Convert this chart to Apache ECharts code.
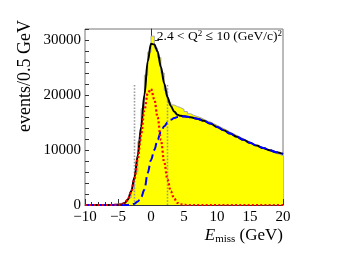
<!DOCTYPE html>
<html><head><meta charset="utf-8">
<script src="https://cdn.jsdelivr.net/npm/echarts@6/dist/echarts.min.js"></script>
<style>html,body{margin:0;padding:0;background:#fff}#c{width:363px;height:257px}</style>
</head><body><div id="c"></div>
<script>
// Histogram: lower bin edges (0.5 GeV bins) and counts
const binEdges = [-10,-9.5,-9,-8.5,-8,-7.5,-7,-6.5,-6,-5.5,-5,-4.5,-4,-3.5,-3,-2.5,-2,-1.5,-1,-0.5,
  0,0.5,1,1.5,2,2.5,3,3.5,4,4.5,5,5.5,6,6.5,7,7.5,8,8.5,9,9.5,
  10,10.5,11,11.5,12,12.5,13,13.5,14,14.5,15,15.5,16,16.5,17,17.5,18,18.5,19,19.5];
const histUpperEdge = 20;
const histValues = [30,40,40,50,60,70,90,110,140,180,250,400,650,1300,2900,6000,11500,17500,23600,27800,
  30700,28500,26800,24000,20800,18600,18200,17900,17700,17400,17000,16600,16300,16100,15900,15600,15300,15100,14800,14500,
  14200,13900,13600,13250,12950,12650,12350,12050,11750,11450,11150,10850,10600,10350,10100,9850,9600,9400,9200,9000];

// Fit curves sampled at curveX
const curveX = [-10,-8,-6,-5,-4.5,-4,-3.5,-3,-2.5,-2,-1.5,-1,-0.5,0,0.5,1,1.5,2,2.5,3,3.5,4,4.5,5,5.5,6,
  7,8,9,10,11,12,13,14,15,16,17,18,19,20];
const signalFit = [0,0,0,30,100,350,1000,2400,4800,8400,12800,17200,20300,21100,19200,16000,11800,7800,4600,2500,1200,400,120,30,0,0,
  0,0,0,0,0,0,0,0,0,0,0,0,0,0];
const backgroundFit = [0,0,0,0,0,0,20,80,250,650,1400,2800,5800,8200,10000,11900,13300,14300,15000,15500,15800,16000,16100,16100,16050,15950,
  15700,15300,14800,14200,13600,13000,12400,11850,11300,10800,10350,9950,9600,9300];
const totalFit = [0,0,0,30,100,350,1020,2480,5050,9050,14200,20000,26100,29300,29200,27900,25100,22100,19600,18000,17000,16400,16220,16130,16050,15950,
  15700,15300,14800,14200,13600,13000,12400,11850,11300,10800,10350,9950,9600,9300];

// Signal window cut lines
const cutPositions = [-2.5, 2.5];
const cutHeight = 22000;

const xMin = -10, xMax = 20, xStep = 5;
const yMin = 0, yMax = 32000, yMajor = 10000, yMinor = 2000;

const serif = "'Liberation Serif','Times New Roman',serif";

const histData = binEdges.map((e, i) => [e, histValues[i]]);
histData.push([histUpperEdge, histValues[histValues.length - 1]]);
const pair = arr => curveX.map((x, i) => [x, arr[i]]);

const chart = echarts.init(document.getElementById('c'), null, {renderer: 'canvas'});
const series = [
  {type: 'line', step: 'end', data: histData, showSymbol: false, z: 1,
   lineStyle: {color: '#a8a8a8', width: 1}, areaStyle: {color: '#ffff00', opacity: 1}},
];
cutPositions.forEach(c => series.push({
  type: 'line', data: [[c, 0], [c, cutHeight]], showSymbol: false, z: 2,
  lineStyle: {color: '#999', width: 1.6, type: [1.6, 1.6]}
}));
series.push(
  {type: 'line', data: pair(totalFit), showSymbol: false, smooth: 0.35, smoothMonotone: 'x', z: 3,
   lineStyle: {color: '#000', width: 2}},
  {type: 'line', data: pair(backgroundFit), showSymbol: false, smooth: 0.35, smoothMonotone: 'x', z: 4,
   lineStyle: {color: '#0000ff', width: 2, type: [8, 4]}},
  {type: 'line', data: pair(signalFit), showSymbol: false, smooth: 0.35, smoothMonotone: 'x', z: 5,
   lineStyle: {color: '#ff0000', width: 2.2, type: [2, 2.2]}}
);

chart.setOption({
  animation: false,
  grid: {left: 85, right: 80, top: 29, bottom: 52, show: true, borderColor: '#777', borderWidth: 1, backgroundColor: 'transparent'},
  xAxis: {
    type: 'value', min: xMin, max: xMax, interval: xStep,
    axisLine: {lineStyle: {color: '#333', width: 1}},
    axisTick: {inside: true, length: 6, lineStyle: {color: '#333'}},
    minorTick: {show: true, splitNumber: 5, length: 3, lineStyle: {color: '#333'}},
    splitLine: {show: false},
    axisLabel: {color: '#000', fontFamily: serif, fontSize: 15, margin: 5,
      formatter: v => String(v).replace('-', '\u2212')}
  },
  yAxis: [
    {type: 'value', min: yMin, max: yMax, interval: yMajor, position: 'left',
     axisLine: {show: true, lineStyle: {color: '#333', width: 1}},
     axisTick: {show: true, inside: true, length: 8, lineStyle: {color: '#333'}},
     splitLine: {show: false},
     axisLabel: {color: '#000', fontFamily: serif, fontSize: 15, margin: 4, showMaxLabel: false,
       formatter: v => String(v)}},
    {type: 'value', min: yMin, max: yMax, interval: yMinor, position: 'left', offset: 0,
     axisLine: {show: false},
     axisTick: {show: true, inside: true, length: 4, lineStyle: {color: '#333'}},
     splitLine: {show: false},
     axisLabel: {show: false}}
  ],
  series: series,
  graphic: [
    {type: 'text', x: 25, y: 20, rotation: Math.PI / 2,
     style: {text: 'events/0.5 GeV', fill: '#000', font: "18px 'Liberation Serif'",
       align: 'right', verticalAlign: 'middle', textAlign: 'right', textVerticalAlign: 'middle'}},
    {type: 'text', x: 283, y: 236,
     style: {text: '{e|E}{s|miss}{n| (GeV)}', align: 'right', verticalAlign: 'middle', textAlign: 'right', textVerticalAlign: 'middle',
       rich: {
         e: {fontFamily: serif, fontSize: 17, fontStyle: 'italic', fill: '#000', color: '#000'},
         s: {fontFamily: serif, fontSize: 11, verticalAlign: 'bottom', fill: '#000', color: '#000'},
         n: {fontFamily: serif, fontSize: 17, fill: '#000', color: '#000'}
       }}},
    {type: 'text', x: 282, y: 36,
     style: {text: '{n|2.4 < Q}{p|2}{n| \u2264 10 (GeV/c)}{p|2}', align: 'right', verticalAlign: 'middle', textAlign: 'right', textVerticalAlign: 'middle',
       rich: {
         n: {fontFamily: serif, fontSize: 13.5, fill: '#000', color: '#000'},
         p: {fontFamily: serif, fontSize: 9, verticalAlign: 'top', fill: '#000', color: '#000'}
       }}}
  ]
});
</script></body></html>
